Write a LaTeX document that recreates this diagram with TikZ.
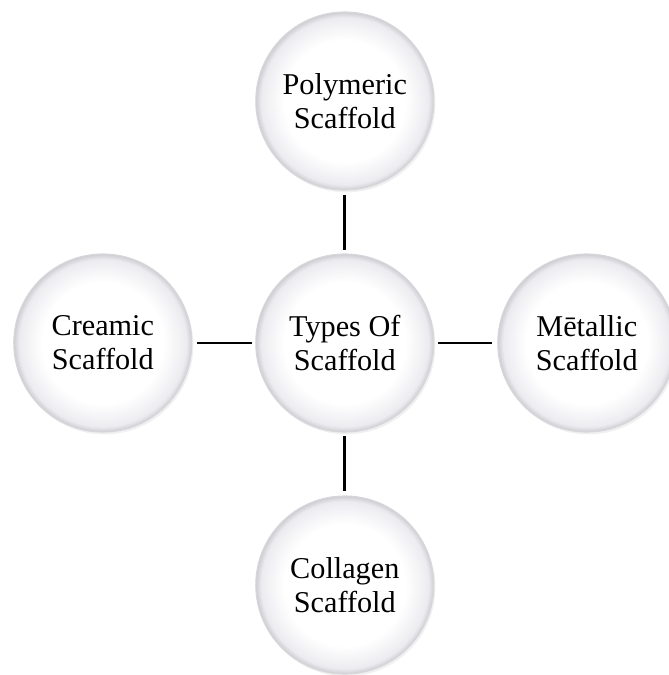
\documentclass[tikz,border=0pt]{standalone}
\usepackage{fontspec}
\setmainfont{Liberation Serif}
\usepackage{xcolor}
\definecolor{RimGray}{RGB}{205,205,210}
\definecolor{SoftGray}{RGB}{236,236,240}
\usetikzlibrary{positioning,shadows}
\pgfdeclareradialshading{rimball}{\pgfpoint{0bp}{0bp}}{color(0bp)=(white); color(17bp)=(white);
  color(23.5bp)=(SoftGray); color(25bp)=(RimGray); color(50bp)=(RimGray)}

\begin{document}
\begin{tikzpicture}[
    ball/.style={circle, draw=RimGray!80, line width=0.8pt, shading=rimball,
              minimum size=4.45cm, align=center, font=\fontsize{21.5}{24}\selectfont,
              drop shadow={opacity=0.12, shadow xshift=0.04cm, shadow yshift=-0.06cm}},
    ln/.style={line width=2.1pt, shorten <=0.12cm, shorten >=0.08cm},
    node distance=6.05cm, on grid
]
    \useasboundingbox (0,0) rectangle (16.7,16.875);
    \node[ball] (c) at (8.62,8.3) {Types Of\\ Scaffold};
    \node[ball, above=of c] (poly) {Polymeric\\ Scaffold};
    \node[ball, left=of c] (cera) {Creamic\\ Scaffold};
    \node[ball, right=of c] (meta) {Mētallic\\ Scaffold};
    \node[ball, below=of c] (coll) {Collagen\\ Scaffold};
    \draw[ln] (poly) -- (c);
    \draw[ln] (cera) -- (c);
    \draw[ln] (meta) -- (c);
    \draw[ln] (coll) -- (c);
\end{tikzpicture}
\end{document}
